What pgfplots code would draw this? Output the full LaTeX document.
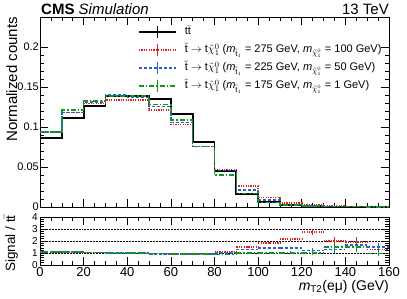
\documentclass[border=0pt]{standalone}
\usepackage{fontspec}
\setmainfont{Liberation Sans}
\usepackage{pgfplots}
\usepackage{pgfplotstable}
\pgfplotsset{compat=1.18}
\definecolor{sred}{RGB}{228,30,30}
\definecolor{sblue}{RGB}{30,100,210}
\definecolor{sgreen}{RGB}{20,150,30}

\pgfplotstableread{
x   tt      red     blue    green
0   0.0858  0.0940  0.0940  0.0940
10  0.1110  0.1180  0.1180  0.1210
20  0.1267  0.1296  0.1310  0.1325
30  0.1390  0.1340  0.1400  0.1390
40  0.1390  0.1340  0.1370  0.1390
50  0.1346  0.1210  0.1254  0.1280
60  0.1160  0.1033  0.1054  0.1090
70  0.0817  0.0754  0.0754  0.0754
80  0.0454  0.0470  0.0454  0.0400
90  0.0165  0.0260  0.0215  0.0170
100 0.0067  0.0120  0.0090  0.0055
110 0.0025  0.0050  0.0033  0.0022
120 0.0012  0.0030  0.0014  0.0011
130 0.0006  0.0012  0.0008  0.0008
140 0.0004  0.0008  0.0006  0.0005
150 0.0003  0.0004  0.0004  0.0003
160 0.0003  0.0004  0.0004  0.0003
}\histtab

\pgfplotstableread{
x   xc  red   redE  blue  blueE green greenE
0   5   1.10  0.02  1.10  0.02  1.10  0.02
10  15  1.07  0.02  1.07  0.02  1.07  0.02
20  25  1.03  0.02  1.03  0.02  1.03  0.02
30  35  0.98  0.02  1.00  0.02  1.00  0.02
40  45  0.97  0.02  0.98  0.02  0.98  0.02
50  55  0.92  0.02  0.93  0.02  0.94  0.02
60  65  0.91  0.02  0.91  0.02  0.93  0.02
70  75  0.92  0.03  0.92  0.03  0.92  0.03
80  85  1.10  0.05  0.98  0.05  0.88  0.05
90  95  1.50  0.08  1.30  0.07  0.98  0.07
100 105 1.85  0.10  1.42  0.09  1.02  0.09
110 115 2.15  0.14  1.42  0.12  1.02  0.12
120 125 2.75  0.25  1.22  0.18  1.00  0.18
130 135 2.00  0.35  1.30  0.30  1.50  0.30
140 145 1.90  0.45  1.65  0.60  1.50  0.45
150 155 1.30  0.35  1.50  0.30  0.97  0.22
160 165 1.30  0.35  1.50  0.30  0.97  0.22
}\ratiotab

\tikzset{
  ttstyle/.style={black, line width=1.8pt},
  redstyle/.style={sred, line width=1.5pt, dash pattern=on 1.2pt off 1.2pt},
  bluestyle/.style={sblue, line width=1.5pt, dash pattern=on 3pt off 2pt},
  greenstyle/.style={sgreen, line width=1.5pt, dash pattern=on 5pt off 2pt on 1.5pt off 2pt},
}

\pgfplotsset{
  cmsaxis/.style={
    scale only axis, width=349pt,
    xmin=0, xmax=160,
    axis line style={line width=0.8pt},
    every tick/.style={black, line width=0.6pt},
    tick align=inside, tick pos=both,
    major tick length=8pt, minor tick length=4pt,
    xtick={0,20,40,60,80,100,120,140,160}, minor x tick num=3,
  },
  legimg/.style={legend image code/.code={
      \draw[#1] (0pt,0pt) -- (37pt,0pt);
      \draw[#1, solid] (18.5pt,-6pt) -- (18.5pt,6pt);}},
}

\begin{document}
\begin{tikzpicture}
\path[use as bounding box] (0pt,0pt) rectangle (407pt,-299pt);

\begin{axis}[cmsaxis,
  at={(40pt,-17pt)}, anchor=north west, height=190pt,
  ymin=0, ymax=0.2375,
  xticklabels={},
  ytick={0,0.05,0.1,0.15,0.2}, minor y tick num=4,
  yticklabels={0,0.05,0.1,0.15,0.2},
  yticklabel style={font=\fontsize{11}{11}\selectfont, inner sep=1pt},
  ylabel={Normalized counts},
  ylabel style={at={(rel axis cs:-0.0645,1)}, anchor=south east, inner sep=0pt, font=\fontsize{15}{15}\selectfont},
  legend style={at={(rel axis cs:0,1)}, anchor=north west, xshift=98pt, yshift=-6pt,
    draw=none, fill=none, inner sep=0pt, outer sep=0pt, row sep=0pt,
    font=\fontsize{11}{13}\selectfont,
    nodes={inner xsep=0pt, inner ysep=0pt, text height=12pt, text depth=6pt},
    /tikz/every odd column/.append style={column sep=8pt}},
  legend cell align=left,
]
\addlegendimage{ttstyle, legimg}
\addlegendentry{$\mathrm{t}\bar{\mathrm{t}}$}
\addlegendimage{redstyle, legimg}
\addlegendentry{$\tilde{\mathrm{t}}\rightarrow\mathrm{t}\tilde{\chi}^{0}_{1}$ (\textit{m}$_{\tilde{\mathrm{t}}_{1}}$ = 275 GeV, \textit{m}$_{\tilde{\chi}^{0}_{1}}$ = 100 GeV)}
\addlegendimage{bluestyle, legimg}
\addlegendentry{$\tilde{\mathrm{t}}\rightarrow\mathrm{t}\tilde{\chi}^{0}_{1}$ (\textit{m}$_{\tilde{\mathrm{t}}_{1}}$ = 225 GeV, \textit{m}$_{\tilde{\chi}^{0}_{1}}$ = 50 GeV)}
\addlegendimage{greenstyle, legimg}
\addlegendentry{$\tilde{\mathrm{t}}\rightarrow\mathrm{t}\tilde{\chi}^{0}_{1}$ (\textit{m}$_{\tilde{\mathrm{t}}_{1}}$ = 175 GeV, \textit{m}$_{\tilde{\chi}^{0}_{1}}$ = 1 GeV)}

\addplot[ttstyle, const plot mark left, forget plot] table[x=x, y=tt] {\histtab};
\addplot[redstyle, const plot mark left, forget plot] table[x=x, y=red] {\histtab};
\addplot[bluestyle, const plot mark left, forget plot] table[x=x, y=blue] {\histtab};
\addplot[greenstyle, const plot mark left, forget plot] table[x=x, y=green] {\histtab};
\end{axis}

\begin{axis}[cmsaxis,
  at={(40pt,-217pt)}, anchor=north west, height=48pt,
  ymin=0, ymax=4,
  xticklabels={0,20,40,60,80,100,120,140,160},
  xticklabel style={font=\fontsize{13}{13}\selectfont, inner sep=2pt},
  ytick={0,1,2,3,4}, minor y tick num=4,
  yticklabels={0,1,2,3,4},
  yticklabel style={font=\fontsize{10}{10}\selectfont, inner sep=2pt},
  ymajorgrids, major grid style={black, line width=0.5pt, densely dotted},
  xlabel={\textit{m}\textsubscript{T2}(eμ) (GeV)},
  xlabel style={at={(rel axis cs:1,0)}, anchor=north east, yshift=-15pt, inner sep=0pt, font=\fontsize{14}{14}\selectfont},
  ylabel={Signal / $\mathrm{t}\bar{\mathrm{t}}$},
  ylabel style={at={(rel axis cs:-0.063,0.45)}, anchor=south, inner sep=0pt, font=\fontsize{13.5}{13.5}\selectfont},
]
\addplot[redstyle, jump mark left] table[x=x, y=red] {\ratiotab};
\addplot[draw=none, mark=none, skip coords between index={16}{17},
  error bars/.cd, y dir=both, y explicit, error mark=none,
  error bar style={sred, line width=1pt, solid}] table[x=xc, y=red, y error=redE] {\ratiotab};
\addplot[bluestyle, jump mark left] table[x=x, y=blue] {\ratiotab};
\addplot[draw=none, mark=none, skip coords between index={16}{17},
  error bars/.cd, y dir=both, y explicit, error mark=none,
  error bar style={sblue, line width=1pt, solid}] table[x=xc, y=blue, y error=blueE] {\ratiotab};
\addplot[greenstyle, jump mark left] table[x=x, y=green] {\ratiotab};
\addplot[draw=none, mark=none, skip coords between index={16}{17},
  error bars/.cd, y dir=both, y explicit, error mark=none,
  error bar style={sgreen, line width=1pt, solid}] table[x=xc, y=green, y error=greenE] {\ratiotab};
\end{axis}

\node[anchor=base west, inner sep=0pt] at (41pt,-15pt) {\fontsize{15}{15}\selectfont\textbf{CMS} \textit{Simulation}};
\node[anchor=base east, inner sep=0pt] at (389pt,-15pt) {\fontsize{15}{15}\selectfont 13 TeV};
\end{tikzpicture}
\end{document}
